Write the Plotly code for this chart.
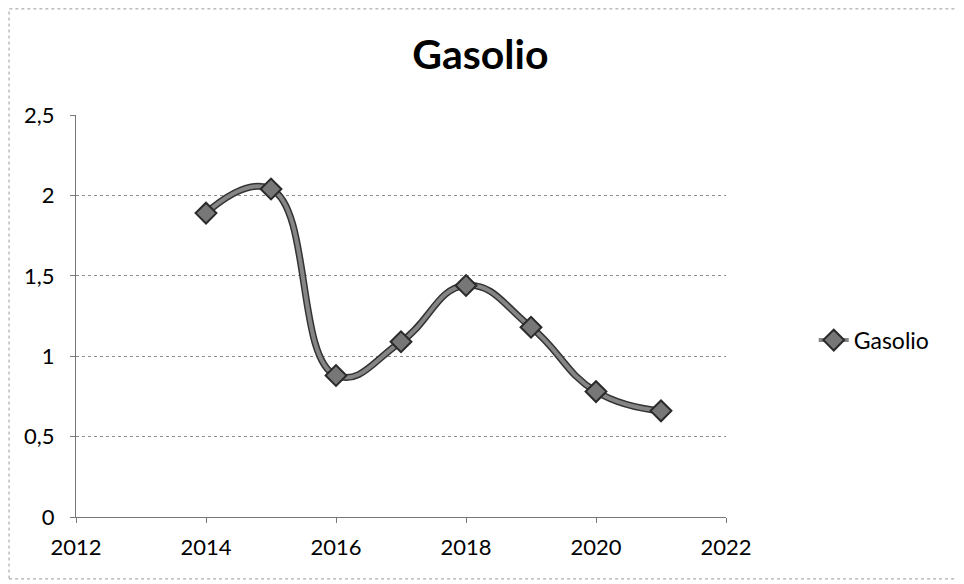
import plotly.graph_objects as go

# Gasolio series
years = [2014, 2015, 2016, 2017, 2018, 2019, 2020, 2021]
gasolio = [1.89, 2.04, 0.88, 1.09, 1.44, 1.18, 0.78, 0.66]

series_name = "Gasolio"
title_text = "Gasolio"

FONT = "Lato, 'Open Sans', sans-serif"

fig = go.Figure()

# dark under-stroke gives the outlined look of the line
fig.add_trace(go.Scatter(
    x=years, y=gasolio,
    mode="lines",
    line=dict(shape="spline", smoothing=1.3, color="#333333", width=7),
    showlegend=False,
    hoverinfo="skip",
))
fig.add_trace(go.Scatter(
    x=years, y=gasolio,
    mode="lines+markers",
    name=series_name,
    line=dict(shape="spline", smoothing=1.3, color="#858585", width=4),
    marker=dict(symbol="diamond", size=16, color="#777777",
                line=dict(color="#2a2a2a", width=2)),
))

fig.update_layout(
    width=964, height=584,
    paper_bgcolor="white",
    plot_bgcolor="white",
    separators=",.",
    font=dict(family=FONT, size=22, color="black"),
    title=dict(text="<b>" + title_text + "</b>", x=0.49, xanchor="center",
               y=0.92, yanchor="middle", font=dict(size=41, family=FONT)),
    margin=dict(l=68, r=246, t=107, b=75),
    legend=dict(x=1.135, y=0.44, xanchor="left", yanchor="middle",
                font=dict(size=23), bgcolor="rgba(0,0,0,0)"),
    showlegend=True,
    shapes=[dict(type="rect", xref="paper", yref="paper",
                 x0=-0.103, x1=1.358, y0=-0.154, y1=1.264,
                 line=dict(color="#9a9a9a", width=1, dash="dot"))],
)

fig.update_xaxes(
    range=[2012, 2022], tickvals=[2012, 2014, 2016, 2018, 2020, 2022],
    showgrid=False, showline=True, linecolor="#777777", linewidth=1,
    ticks="outside", ticklen=5, tickcolor="#777777",
    ticklabelstandoff=6,
    zeroline=False, tickformat="d",
)
fig.update_yaxes(
    range=[0, 2.5], dtick=0.5,
    showgrid=True, gridcolor="#8c8c8c", griddash="dot", gridwidth=1,
    showline=True, linecolor="#777777", linewidth=1,
    ticks="outside", ticklen=5, tickcolor="#777777",
    ticklabelstandoff=11,
    zeroline=False,
)

fig.write_html("out.html")
